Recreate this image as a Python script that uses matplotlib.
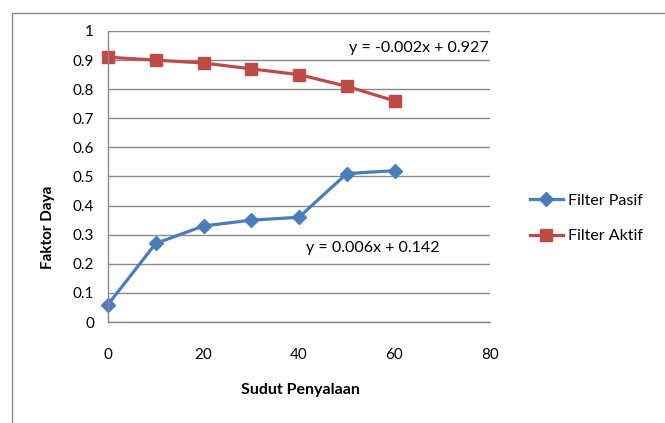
import matplotlib
matplotlib.use("Agg")
import matplotlib.pyplot as plt
from matplotlib.patches import Rectangle

# Sudut penyalaan (derajat) dan faktor daya tiap filter
sudut = [0, 10, 20, 30, 40, 50, 60]
filter_pasif = [0.06, 0.27, 0.33, 0.35, 0.36, 0.51, 0.52]
filter_aktif = [0.91, 0.90, 0.89, 0.87, 0.85, 0.81, 0.76]

x_ticks = [0, 20, 40, 60, 80]
y_ticks = [0, 0.1, 0.2, 0.3, 0.4, 0.5, 0.6, 0.7, 0.8, 0.9, 1]
y_labels = ["0", "0.1", "0.2", "0.3", "0.4", "0.5", "0.6", "0.7", "0.8", "0.9", "1"]

plt.rcParams["font.family"] = ["Lato", "DejaVu Sans"]

fig = plt.figure(figsize=(6.65, 4.23), dpi=100)
fig.patch.set_facecolor("white")
# bingkai chart
fig.patches.append(Rectangle((12 / 665, -0.05), 1.0, 1 - 13 / 423 + 0.05,
                             transform=fig.transFigure, fill=False,
                             edgecolor="#8c8c8c", linewidth=1.0))

ax = fig.add_axes([108 / 665, 1 - 322 / 423, (490 - 108) / 665, (322 - 31) / 423])
ax.set_xlim(0, 80)
ax.set_ylim(0, 1)
ax.set_xticks(x_ticks)
ax.set_yticks(y_ticks)
ax.set_yticklabels(y_labels)
ax.tick_params(length=0, labelsize=11, colors="#000000")
ax.tick_params(axis="x", pad=19)
ax.tick_params(axis="y", pad=10)
ax.grid(axis="y", color="#8a8a8a", linewidth=1.0)
ax.set_axisbelow(True)
for s in ["top", "right"]:
    ax.spines[s].set_visible(False)
for s in ["left", "bottom"]:
    ax.spines[s].set_color("#8a8a8a")
    ax.spines[s].set_linewidth(1.0)

ax.plot(sudut, filter_pasif, color="#4A7EBB", linewidth=2.3, marker="D",
        markersize=7, label="Filter Pasif", clip_on=False)
ax.plot(sudut, filter_aktif, color="#BE4B48", linewidth=2.3, marker="s",
        markersize=9, label="Filter Aktif", clip_on=False)

ax.text(79.7, 0.942, "y = -0.002x + 0.927", ha="right", va="center", fontsize=11.5)
ax.text(55.5, 0.254, "y = 0.006x + 0.142", ha="center", va="center", fontsize=11.5)

ax.set_ylabel("Faktor Daya", fontsize=11, fontweight="bold")
ax.yaxis.set_label_coords(-0.139, 0.326)
ax.set_xlabel("Sudut Penyalaan", fontsize=11.5, fontweight="bold")
ax.xaxis.set_label_coords(0.503, -0.21)

ax.legend(loc="center left", bbox_to_anchor=(1.088, 0.356), borderaxespad=0,
          frameon=False, fontsize=11.5, handlelength=2.05, handletextpad=0.3,
          labelspacing=1.35)

fig.savefig("out.png", dpi=100)
plt.close(fig)
